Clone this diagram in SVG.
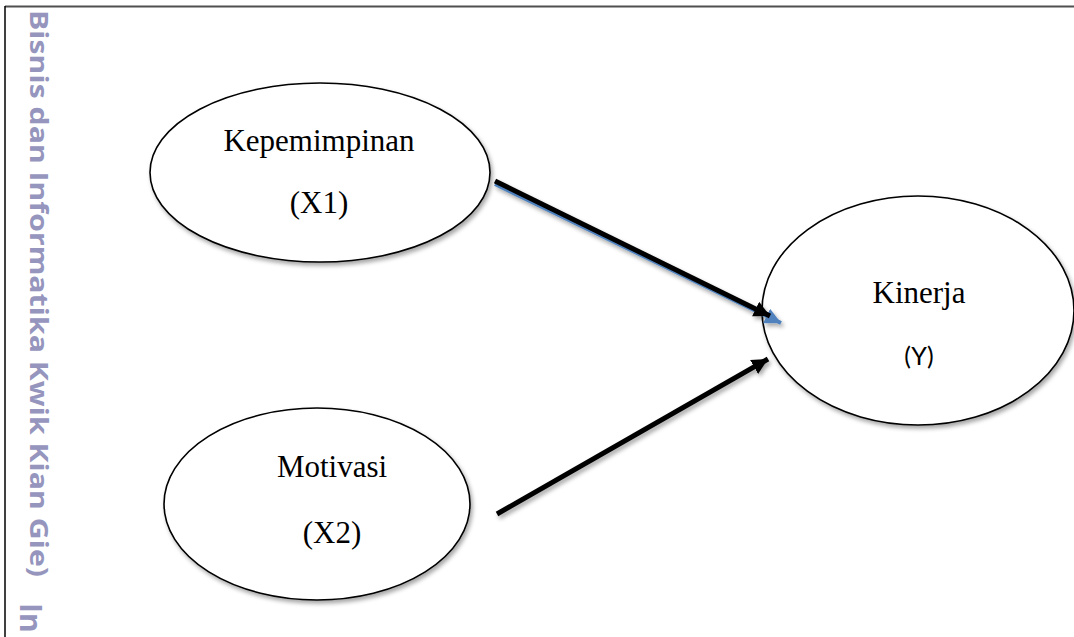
<svg xmlns="http://www.w3.org/2000/svg" width="1074" height="637" viewBox="0 0 1074 637">
  <style>
    .node { fill: #ffffff; stroke: #000000; stroke-width: 1.6; }
    .serif { font-family: "Liberation Serif", "Times New Roman", serif; font-size: 31px; fill: #000000; text-anchor: middle; }
    .sans { font-family: "Lato", "Liberation Sans", sans-serif; font-size: 25px; fill: #000000; text-anchor: middle; }
    .wm { font-family: "Open Sans", "Noto Sans", sans-serif; font-weight: bold; fill: #9595bd; }
    .conn { stroke: #000000; stroke-width: 5; fill: none; }
  </style>
  <defs>
    <filter id="shadow" x="-10%" y="-10%" width="125%" height="130%">
      <feDropShadow dx="2" dy="3" stdDeviation="2" flood-color="#000000" flood-opacity="0.35"/>
    </filter>
    <marker id="headBlack" markerUnits="userSpaceOnUse" markerWidth="20" markerHeight="18" refX="16" refY="8" orient="auto">
      <path d="M0,0 L16,8 L0,16 z" fill="#000000"/>
    </marker>
    <marker id="headBlue" markerUnits="userSpaceOnUse" markerWidth="20" markerHeight="18" refX="16" refY="8" orient="auto">
      <path d="M0,0 L16,8 L0,16 z" fill="#4f81bd"/>
    </marker>
  </defs>

  <rect width="1074" height="637" fill="#ffffff"/>

  <!-- frame -->
  <line x1="5" y1="6.5" x2="1074" y2="6.5" stroke="#505050" stroke-width="2"/>
  <line x1="5" y1="6" x2="5" y2="637" stroke="#000000" stroke-width="1.5"/>

  <!-- watermark -->
  <text class="wm" font-size="25" transform="translate(30,10) rotate(90)" textLength="567" lengthAdjust="spacingAndGlyphs">Bisnis dan Informatika Kwik Kian Gie)</text>
  <text class="wm" font-size="30" transform="translate(20,603) rotate(90)">In</text>

  <!-- nodes -->
  <g id="node-x1">
    <ellipse class="node" cx="320" cy="172.5" rx="170" ry="89.5" filter="url(#shadow)"/>
    <text class="serif" x="319" y="151">Kepemimpinan</text>
    <text class="serif" x="319" y="213">(X1)</text>
  </g>

  <g id="node-x2">
    <ellipse class="node" cx="317" cy="504" rx="153" ry="96" filter="url(#shadow)"/>
    <text class="serif" x="332" y="477">Motivasi</text>
    <text class="serif" x="332" y="543">(X2)</text>
  </g>

  <g id="node-y">
    <ellipse class="node" cx="918" cy="310.5" rx="156" ry="114.5" filter="url(#shadow)"/>
    <text class="serif" x="919" y="303">Kinerja</text>
    <text class="sans" x="919" y="365">(Y)</text>
  </g>

  <!-- connectors -->
  <g id="connectors" filter="url(#shadow)">
    <line x1="495" y1="184" x2="781" y2="323" stroke="#4f81bd" stroke-width="4" marker-end="url(#headBlue)"/>
    <line class="conn" x1="495" y1="181" x2="770" y2="316" marker-end="url(#headBlack)"/>
    <line class="conn" x1="497" y1="514" x2="768" y2="359" marker-end="url(#headBlack)"/>
  </g>
</svg>
